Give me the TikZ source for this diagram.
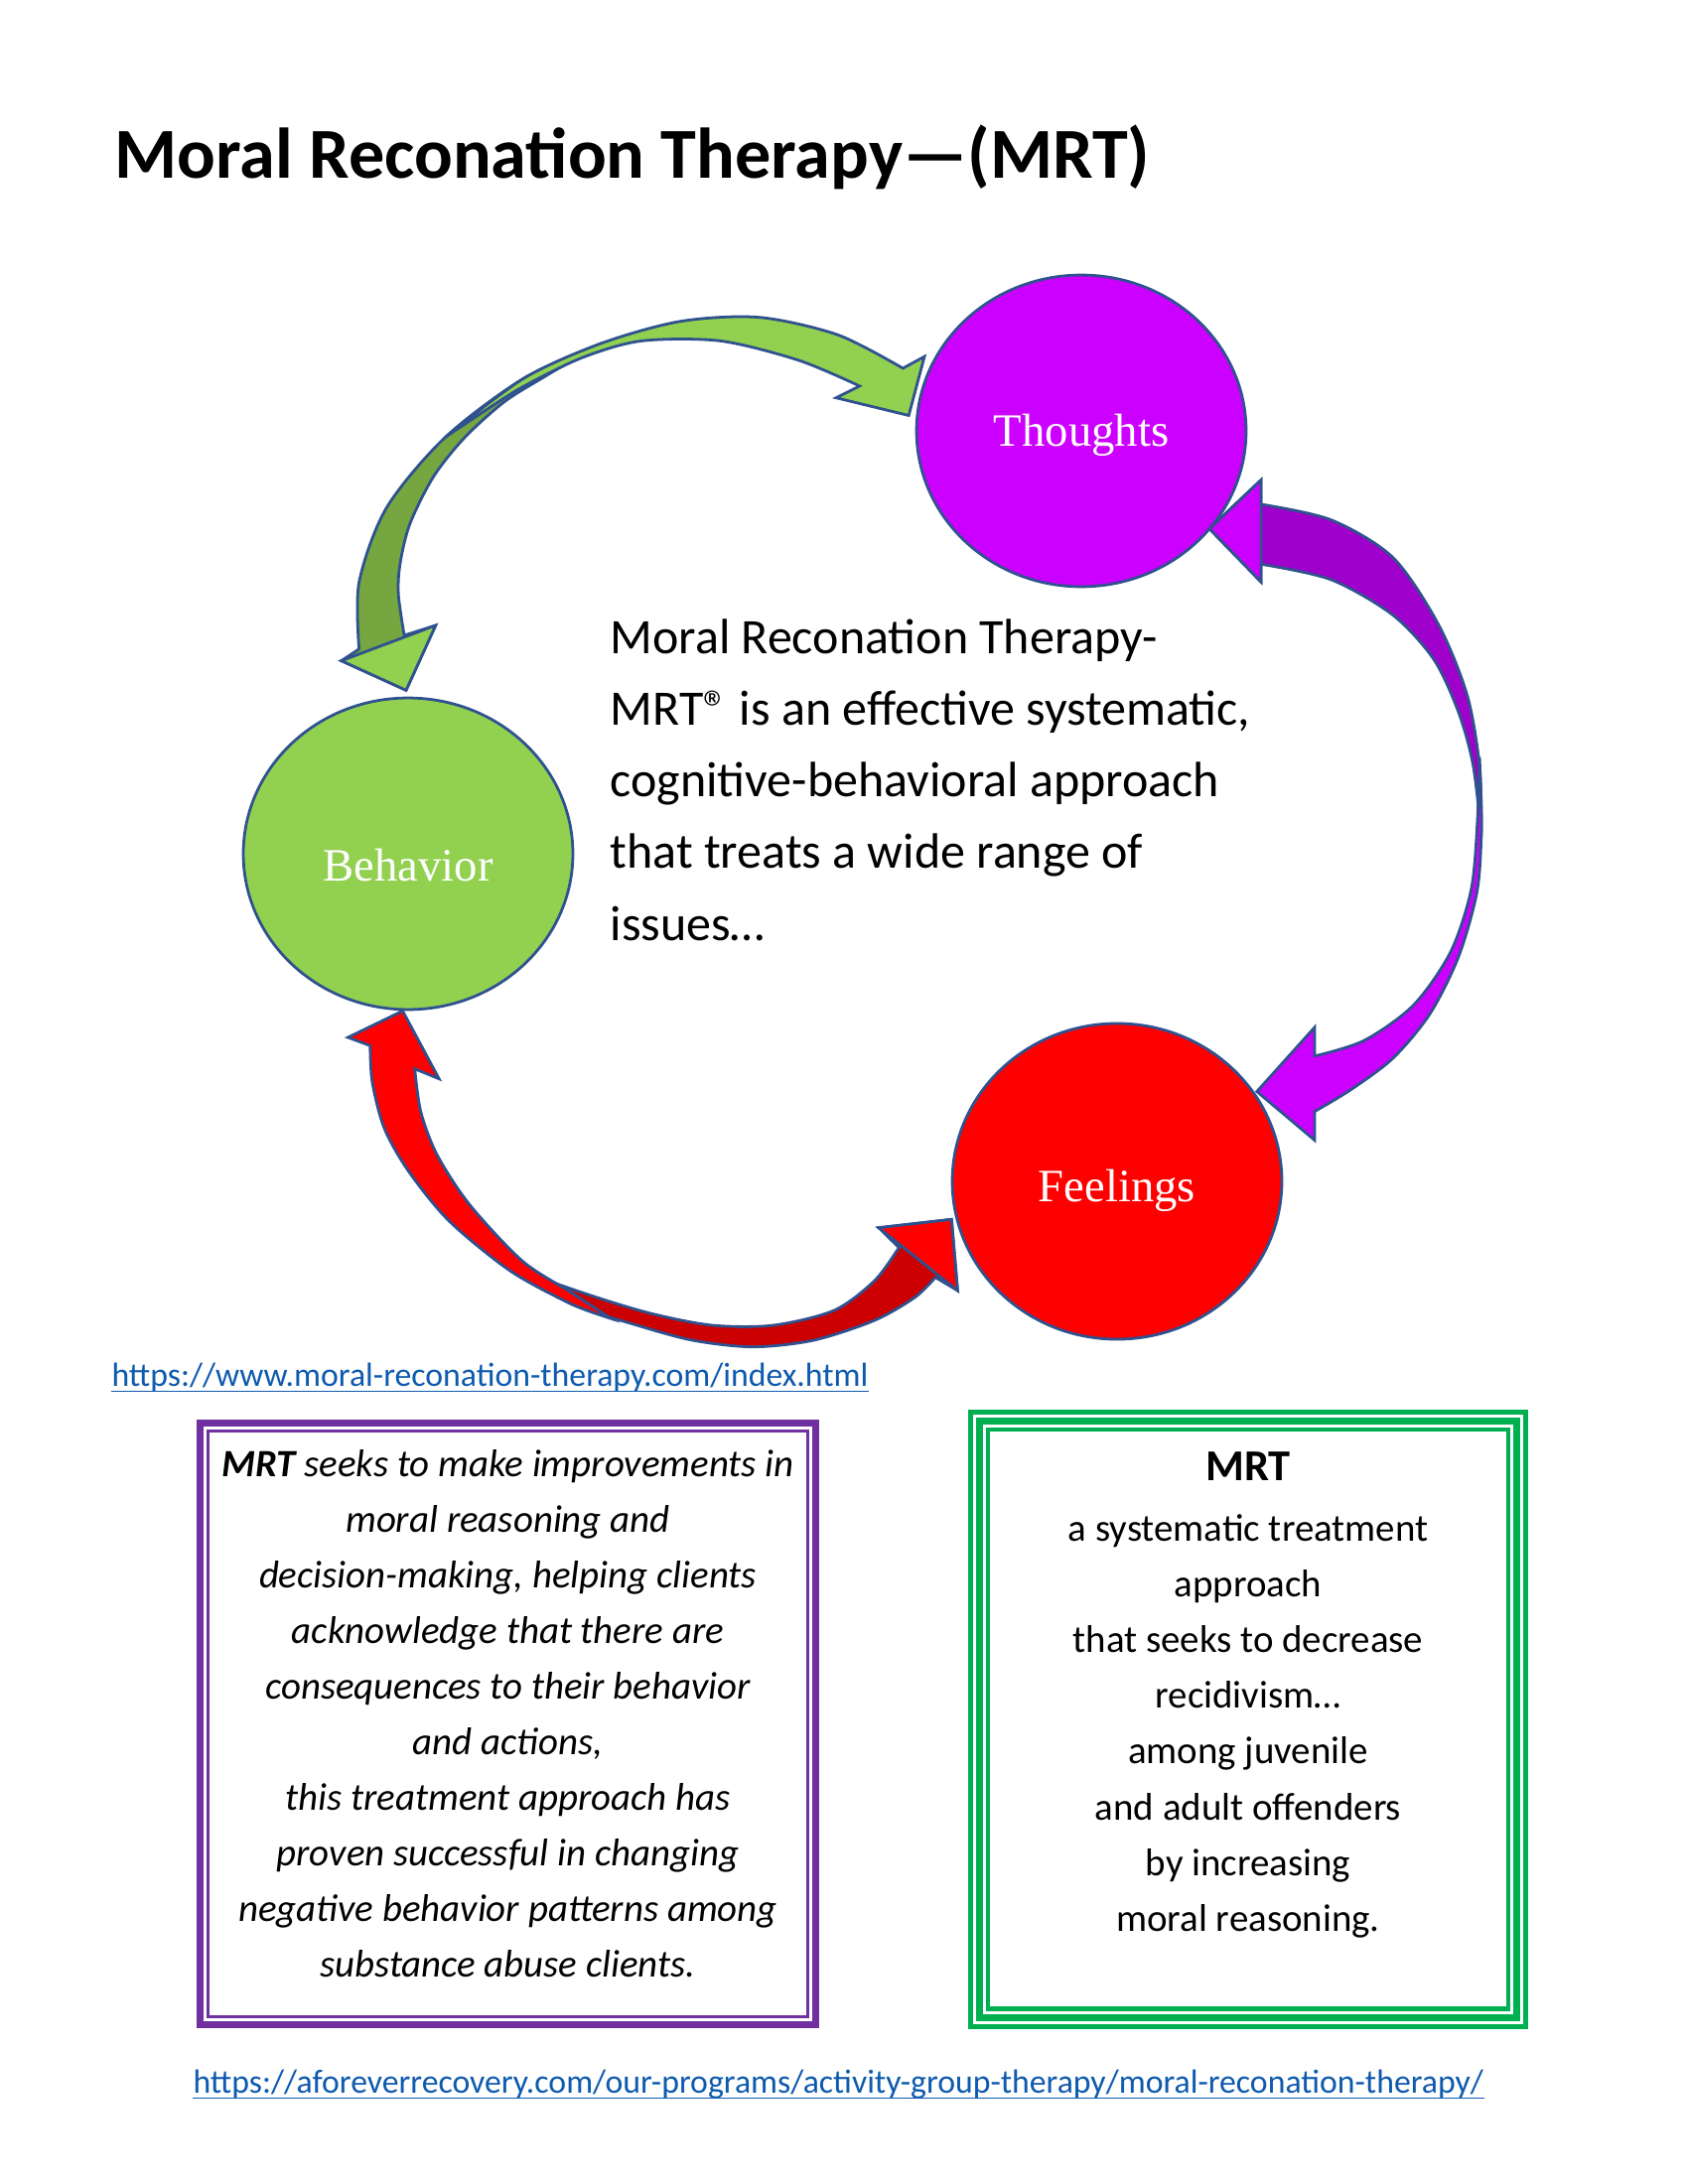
\documentclass[tikz,border=0pt]{standalone}
\usepackage{fontspec}
\setmainfont{Carlito}
\newfontfamily\circfont{Liberation Serif}
\usetikzlibrary{shapes.geometric}
\definecolor{edgeblue}{HTML}{2F528F}
\definecolor{lgreen}{HTML}{92D050}
\definecolor{dgreen}{HTML}{75A640}
\definecolor{mag}{HTML}{CC00FF}
\definecolor{dmag}{HTML}{A000CC}
\definecolor{bred}{HTML}{FF0000}
\definecolor{dred}{HTML}{CC0000}
\definecolor{boxpurple}{HTML}{7030A0}
\definecolor{boxgreen}{HTML}{00B050}
\definecolor{linkblue}{HTML}{0E5AAE}
\begin{document}
\begin{tikzpicture}[x=0.36pt,y=-0.36pt,
  circ/.style={ellipse, draw=edgeblue, line width=1pt, minimum width=119.5pt, minimum height=113pt, inner sep=0pt},
  circlab/.style={text=white, inner sep=0pt, font=\circfont\fontsize{16.8}{18}\selectfont},
  blk/.style={draw=edgeblue, line width=1pt, line join=miter},
  titletext/.style={anchor=base west, inner sep=0pt, font=\bfseries\fontsize{26}{30}\selectfont},
  bodytext/.style={anchor=base west, inner sep=0pt, font=\fontsize{18}{22}\selectfont},
  ptext/.style={anchor=base, inner sep=0pt, font=\fontsize{14}{17}\selectfont\itshape},
  gtext/.style={anchor=base, inner sep=0pt, font=\fontsize{14}{17}\selectfont},
  linktext/.style={anchor=base west, inner sep=0pt, text=linkblue, font=\fontsize{12.15}{14}\selectfont},
  linkline/.style={linkblue, line width=0.6pt}]
\useasboundingbox[fill=white] (0,0) rectangle (1700,2200);

% title
\node[titletext] (title) at (115,180) {Moral Reconation Therapy—(MRT)};

% green arrows (Thoughts <-> Behavior)
\filldraw[blk, fill=dgreen] plot[smooth] coordinates {(606.8,345.4) (527.7,381) (448.6,440.3) (389.3,511.4) (361.6,586.6) (361.6,653.8)}
  -- (343.8,665.6) -- (409,695.3) -- (438.7,630)
  -- plot[smooth] coordinates {(407.1,640) (401.2,598.4) (403.1,566.8) (413,527.2) (436.8,479.8) (468.4,440.3) (508,404.7) (547.5,380) (578,362) (606.8,345.4)} -- cycle;
\filldraw[blk, fill=lgreen] (343.8,665.6) -- (409,695.3) -- (438.7,630) -- cycle;
\filldraw[blk, fill=lgreen] plot[smooth] coordinates {(448.6,440.3) (527.7,381) (606.8,345.4) (685.9,323.6) (765,319.7) (844,337.4) (909.3,371)}
  -- (931,359.2) -- (915.2,418.5) -- (842,400.7)
  -- plot[smooth] coordinates {(865.8,388.9) (804.5,363) (725.4,343.4) (646.3,343.4) (587,360) (527.7,389) (488,414) (448.6,440.3)} -- cycle;

% purple arrows (Thoughts <-> Feelings)
\filldraw[blk, fill=dmag] plot[smooth] coordinates {(1492,842.8) (1490,771.4) (1477.5,700) (1448.4,628.6) (1402.8,561.6) (1340.5,523.7) (1270,508)}
  -- (1270,483.5) -- (1218,532.6) -- (1270,586.2)
  -- plot[smooth] coordinates {(1270,568.3) (1340.5,583.9) (1402.8,619.6) (1444,664.3) (1469,717.8) (1483.7,771.4) (1492,842.8)} -- cycle;
\filldraw[blk, fill=mag] (1270,483.5) -- (1218,532.6) -- (1270,586.2) -- cycle;
\filldraw[blk, fill=mag] plot[smooth] coordinates {(1490,762.5) (1492,829.4) (1487.8,896.4) (1469,963.4) (1440,1021.4) (1402.8,1066) (1361,1097.3) (1324,1119.6)}
  -- (1324,1148.6) -- (1265.8,1099.5) -- (1324,1034.8)
  -- plot[smooth] coordinates {(1324,1063.8) (1373.7,1048.2) (1423.5,1012.5) (1460.9,958.9) (1481.6,896.4) (1487.8,829.4) (1490,762.5)} -- cycle;

% red arrows (Feelings <-> Behavior)
\filldraw[blk, fill=dred] plot[smooth] coordinates {(513.6,1276.7) (574.8,1313.3) (636,1333.3) (697.2,1350) (758.4,1356.7) (819.6,1350) (880.8,1330) (921.6,1306.7) (942,1286.7)}
  -- (964.4,1300) -- (958.3,1228.3) -- (884.9,1236.7)
  -- plot[smooth] coordinates {(905.3,1256.7) (880.8,1290) (840,1320) (778.8,1335) (717.6,1335) (656.4,1323.3) (595.2,1305) (513.6,1276.7)} -- cycle;
\filldraw[blk, fill=bred] (964.4,1300) -- (958.3,1228.3) -- (884.9,1236.7) -- cycle;
\filldraw[blk, fill=bred] plot[smooth] coordinates {(615.6,1328.3) (574.8,1313.3) (513.6,1280) (452.4,1230) (411.6,1180) (387.1,1136.7) (374.9,1090) (372.8,1053.3)}
  -- (350.4,1045) -- (405.5,1018.3) -- (442.2,1086.7)
  -- plot[smooth] coordinates {(417.7,1076.7) (423.8,1120) (440.2,1163.3) (472.8,1213.3) (525.8,1270) (574.8,1301.7) (615.6,1328.3)} -- cycle;

% circles
\node[circ, fill=mag, label={[circlab, yshift=-1.5pt]center:Thoughts}] (thoughts) at (1089,434) {};
\node[circ, fill=lgreen, label={[circlab, yshift=-4pt]center:Behavior}] (behavior) at (411,860) {};
\node[circ, fill=bred, minimum height=114.5pt, label={[circlab, yshift=-3.5pt]center:Feelings}] (feelings) at (1125,1190) {};

% central text
\foreach \txt [count=\i from 0] in {{Moral Reconation Therapy-},{MRT® is an effective systematic,},{cognitive-behavioral approach},{that treats a wide range of},{issues…}}
  \node[bodytext] (c\i) at (614,{658+72.3*\i}) {\txt};

% first link
\node[linktext] (url1) at (112,1396) {https://www.moral-reconation-therapy.com/index.html};
\draw[linkline] ([yshift=-2pt]url1.base west) -- ([yshift=-2pt]url1.base east);

% purple box
\draw[boxpurple, line width=2.5pt] (201.5,1433.5) rectangle (821.5,2039.5);
\draw[boxpurple, line width=1.2pt] (209.4,1441.4) rectangle (813.6,2031.6);
\foreach \txt [count=\i from 0] in {{\textbf{MRT} seeks to make improvements in},{moral reasoning and},{decision-making, helping clients},{acknowledge that there are},{consequences to their behavior},{and actions,},{this treatment approach has},{proven successful in changing},{negative behavior patterns among},{substance abuse clients.}}
  \node[ptext] (p\i) at (511.5,{1487+56*\i}) {\txt};

% green box
\draw[boxgreen, line width=1.8pt] (977.5,1422.5) rectangle (1536.5,2041.2);
\draw[boxgreen, line width=2.6pt] (986.4,1431.4) rectangle (1527.6,2032.3);
\draw[boxgreen, line width=1.7pt] (995,1440) rectangle (1519,2023.7);
\node[gtext, font=\bfseries\fontsize{16}{19}\selectfont] (g0) at (1257,1491.5) {MRT};
\foreach \txt [count=\i from 1] in {{a systematic treatment},{approach},{that seeks to decrease},{recidivism…},{among juvenile},{and adult offenders},{by increasing},{moral reasoning.}}
  \node[gtext] (g\i) at (1257,{1552+56.2*(\i-1)}) {\txt};

% second link
\node[linktext] (url2) at (194,2108) {https://aforeverrecovery.com/our-programs/activity-group-therapy/moral-reconation-therapy/};
\draw[linkline] ([yshift=-2pt]url2.base west) -- ([yshift=-2pt]url2.base east);
\end{tikzpicture}
\end{document}
